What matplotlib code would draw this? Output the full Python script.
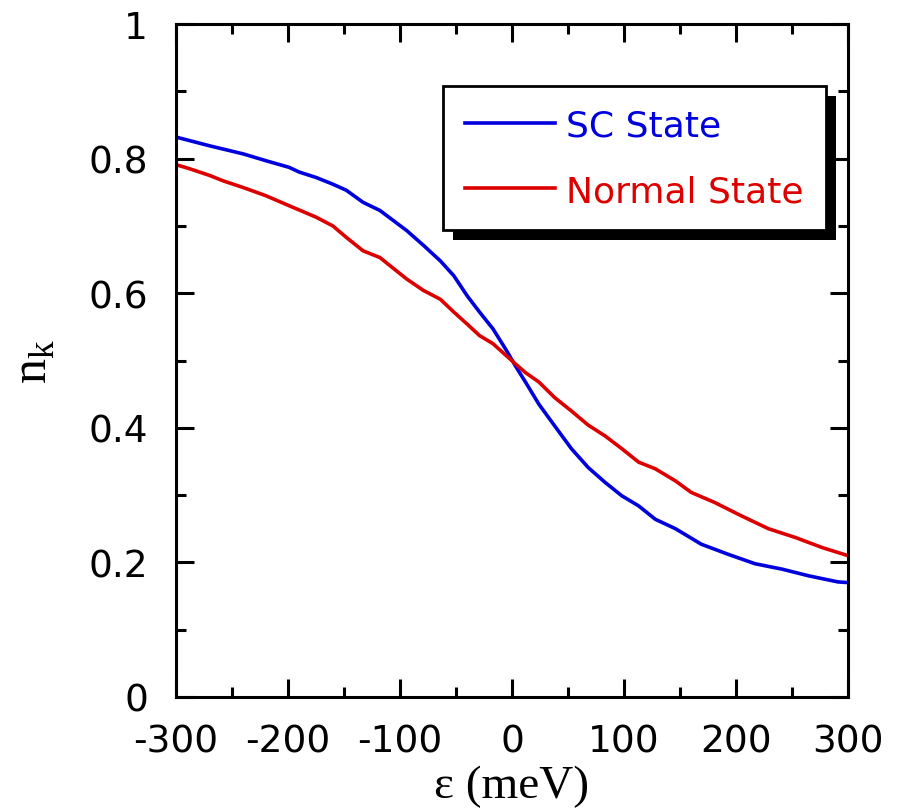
import matplotlib
matplotlib.use('Agg')
import matplotlib.pyplot as plt
from matplotlib.patches import Rectangle
from matplotlib.transforms import IdentityTransform
from matplotlib.ticker import MultipleLocator


sc_energy = [-300, -270, -240, -220, -199, -190, -175, -160, -148, -133, -118, -94,
             -79, -64, -52, -40, -29, -17, -5, 3, 12, 24, 38, 53, 68, 83, 98, 113,
             128, 146, 169, 193, 217, 241, 265, 291, 300]
sc_state = [0.832, 0.819, 0.807, 0.797, 0.787, 0.780, 0.772, 0.762, 0.753, 0.735,
            0.723, 0.693, 0.671, 0.648, 0.626, 0.596, 0.572, 0.547, 0.515, 0.492,
            0.468, 0.435, 0.403, 0.369, 0.341, 0.319, 0.299, 0.284, 0.264, 0.250,
            0.227, 0.212, 0.198, 0.190, 0.180, 0.171, 0.170]

normal_energy = [-300, -288, -270, -258, -240, -220, -199, -175, -160, -148, -133,
                 -118, -94, -79, -64, -52, -40, -29, -17, -5, 3, 12, 24, 38, 53, 68,
                 83, 98, 113, 128, 146, 160, 181, 205, 229, 253, 277, 300]
normal_state = [0.791, 0.785, 0.775, 0.767, 0.757, 0.745, 0.730, 0.713, 0.700, 0.683,
                0.663, 0.653, 0.621, 0.604, 0.591, 0.572, 0.554, 0.537, 0.525, 0.507,
                0.495, 0.482, 0.468, 0.445, 0.425, 0.404, 0.388, 0.369, 0.349, 0.339,
                0.321, 0.304, 0.289, 0.269, 0.250, 0.237, 0.222, 0.210]

x_ticks = [-300, -200, -100, 0, 100, 200, 300]
y_ticks = [0, 0.2, 0.4, 0.6, 0.8, 1]
y_tick_labels = ['0', '0.2', '0.4', '0.6', '0.8', '1']

blue = '#0000dd'
red = '#dd0000'


def plot_nk(plot_name):
    plt.rcParams['font.family'] = 'DejaVu Sans'
    plt.rcParams['font.size'] = 27
    plt.rcParams['axes.unicode_minus'] = False

    fig = plt.figure(figsize=(8.99, 8.12), dpi=100)
    ax = fig.add_axes([0.1958, 0.1404, 0.7475, 0.8288])

    ax.plot(sc_energy, sc_state, color=blue, lw=2.6, label='SC State')
    ax.plot(normal_energy, normal_state, color=red, lw=2.6, label='Normal State')

    ax.set_xlim(-300, 300)
    ax.set_ylim(0, 1)
    ax.set_xticks(x_ticks)
    ax.set_yticks(y_ticks)
    ax.set_yticklabels(y_tick_labels)
    ax.xaxis.set_minor_locator(MultipleLocator(50))
    ax.yaxis.set_minor_locator(MultipleLocator(0.1))
    ax.tick_params(which='both', direction='in', top=True, right=True, width=2.2)
    ax.tick_params(which='major', length=13)
    ax.tick_params(which='minor', length=7.2)
    ax.tick_params(axis='x', pad=19)
    ax.tick_params(axis='y', pad=20)
    for s in ax.spines.values():
        s.set_linewidth(2.2)

    ax.set_xlabel('ε (meV)', family='Liberation Serif', fontsize=34, labelpad=4)
    ax.set_ylabel(r'n$_\mathregular{k}$', family='Liberation Serif', fontsize=36,
                  labelpad=22)

    leg = ax.legend(loc='upper left', bbox_to_anchor=(0.397, 0.908),
                    borderaxespad=0, fancybox=False, framealpha=1,
                    edgecolor='black', labelcolor='linecolor', fontsize=26,
                    handlelength=2.5, handletextpad=0.3, borderpad=0.62,
                    labelspacing=0.88)
    leg.get_frame().set_linewidth(2)
    leg.set_zorder(5)

    # block shadow behind the legend box
    fig.canvas.draw()
    bb = leg.get_frame().get_window_extent()
    shadow = Rectangle((bb.x0 + 10, bb.y0 - 10), bb.width, bb.height,
                       transform=IdentityTransform(), facecolor='black',
                       edgecolor='none', zorder=4.5, clip_on=False)
    ax.add_patch(shadow)

    plt.savefig(plot_name, dpi=100)


if __name__ == "__main__":
    plot_nk('out.png')
